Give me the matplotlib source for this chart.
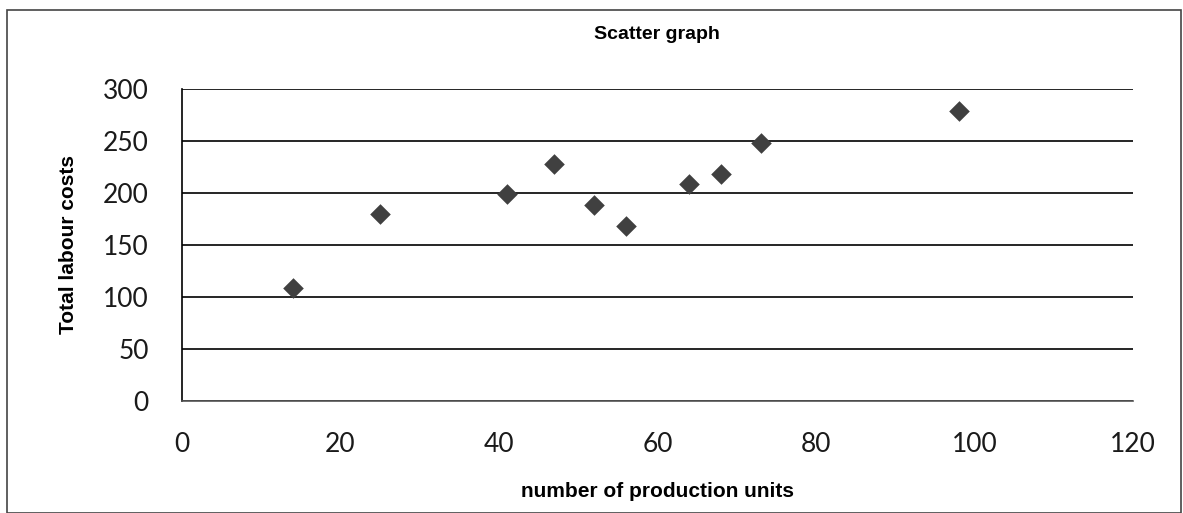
import matplotlib
matplotlib.use("Agg")
import matplotlib.pyplot as plt
from matplotlib.patches import Rectangle

units = [14, 25, 41, 47, 52, 56, 64, 68, 73, 98]
costs = [109, 180, 199, 228, 188, 168, 209, 218, 248, 279]
xticks = [0, 20, 40, 60, 80, 100, 120]
yticks = [0, 50, 100, 150, 200, 250, 300]

plt.rcParams['font.family'] = ['Liberation Sans', 'DejaVu Sans']

W, H = 1183, 513
fig = plt.figure(figsize=(W / 100, H / 100), dpi=100)
ax = fig.add_axes([182 / W, 1 - 401 / H, (1133 - 182) / W, (401 - 89) / H])

ax.scatter(units, costs, marker='D', s=110, color='#404040', zorder=3, linewidths=0)
ax.set_xlim(0, 120)
ax.set_ylim(0, 300)
ax.set_xticks(xticks)
ax.set_yticks(yticks)
ax.grid(axis='y', color='black', linewidth=1.2)
ax.set_axisbelow(True)
for s in ['top', 'right']:
    ax.spines[s].set_visible(False)
ax.spines['left'].set_color('black')
ax.spines['left'].set_linewidth(1.2)
ax.spines['bottom'].set_color('#555555')
ax.spines['bottom'].set_linewidth(1.2)
ax.tick_params(length=0, labelsize=19, labelcolor='#1a1a1a')
ax.tick_params(axis='x', pad=22)
ax.tick_params(axis='y', pad=24)
for lab in ax.get_xticklabels() + ax.get_yticklabels():
    lab.set_family(['Lato', 'DejaVu Sans'])
    lab.set_fontweight('normal')

ax.set_xlabel('number of production units', fontsize=15, fontweight='bold', labelpad=18)
ax.set_ylabel('Total labour costs', fontsize=15, fontweight='bold', labelpad=18)
fig.text(657 / W, 1 - 35 / H, 'Scatter graph', fontsize=14, fontweight='bold',
         ha='center', va='center')

fig.patches.append(Rectangle((7 / W, 0), (1181 - 7) / W, 1 - 10 / H,
                             transform=fig.transFigure, fill=False,
                             edgecolor='#444444', linewidth=1.2))

fig.savefig('out.png', dpi=100)
